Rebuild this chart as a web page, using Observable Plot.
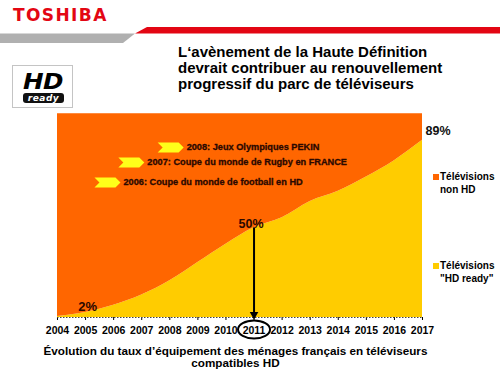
<!DOCTYPE html>
<html><head><meta charset="utf-8">
<script src="https://cdn.jsdelivr.net/npm/d3@7"></script>
<script src="https://cdn.jsdelivr.net/npm/@observablehq/plot@0.6"></script>
<style>
body{margin:0;background:#fff;}
#page{position:relative;width:500px;height:374px;overflow:hidden;font-family:"Liberation Sans",Arial,sans-serif;color:#000;}
.abs{position:absolute;}
#brand{left:13px;top:6.6px;font:bold 17px/17px "DejaVu Sans",sans-serif;letter-spacing:1.4px;color:#e30613;}
#title{left:178px;top:43.5px;font-weight:bold;font-size:15px;line-height:16px;white-space:nowrap;}
#hdlogo{left:12px;top:65px;width:59px;height:41px;border:1px solid #c4c4c4;background:#fff;}
#hdtext{position:absolute;left:10px;top:5px;font:italic bold 22px/22px "DejaVu Sans",sans-serif;letter-spacing:-0.5px;transform:scaleX(1.12);transform-origin:0 0;}
#ready{position:absolute;left:10px;top:27px;width:41px;height:10px;border-radius:3px;background:#111;color:#fff;font:italic bold 9px/10px "DejaVu Sans",sans-serif;text-align:center;letter-spacing:0.5px;}
#chart{left:0;top:100px;}
.leg{font-weight:bold;font-size:10px;line-height:12.5px;white-space:nowrap;}
.sw{width:6px;height:6px;}
#caption{left:0;top:345px;width:471px;text-align:center;font-weight:bold;font-size:11.7px;line-height:12px;white-space:nowrap;}
</style></head><body>
<div id="page">
  <svg class="abs" style="left:0;top:0" width="500" height="50">
    <polygon points="147,27 500,27 500,33.5 135,33.5" fill="#e30613"/>
    <polygon points="0,33.5 135,33.5 123,43 0,43" fill="#b0b0b0"/>
  </svg>
  <div class="abs" id="brand">TOSHIBA</div>
  <div class="abs" id="title">L‘avènement de la Haute Définition<br>devrait contribuer au renouvellement<br>progressif du parc de téléviseurs</div>
  <div class="abs" id="hdlogo"><div id="hdtext">HD</div><div id="ready">ready</div></div>
  <div class="abs" id="chart"></div>
  <div class="abs sw" id="sw0" style="left:433px;top:174px;"></div>
  <div class="abs leg" id="leg0" style="left:440px;top:171.3px;"></div>
  <div class="abs sw" id="sw1" style="left:433px;top:263px;"></div>
  <div class="abs leg" id="leg1" style="left:440px;top:260.3px;"></div>
  <div class="abs" id="caption">Évolution du taux d’équipement des ménages français en téléviseurs<br>compatibles HD</div>
</div>
<script>
// ---- data ----
const years = [2004, 2005, 2006, 2007, 2008, 2009, 2010, 2011, 2012, 2013, 2014, 2015, 2016, 2017];
const hdReady = [0.5, 2.5, 6, 11, 18, 27, 36, 44, 49, 57, 62, 69, 77, 87];
const nonHD = [99.5, 97.5, 94, 89, 82, 73, 64, 56, 51, 43, 38, 31, 23, 13];
const seriesNames = ["HD ready", "non HD"];
const legendLabels = ["Télévisions<br>non HD", "Télévisions<br>\"HD ready\""];
const seriesColors = ["#ffcc00", "#ff6600"];
const pctLabels = ["2%", "50%", "89%"];
const pctLabelYears = [2005, 2011, 2017];
const events = [
  "2008: Jeux Olympiques PEKIN",
  "2007: Coupe du monde de Rugby en FRANCE",
  "2006: Coupe du monde de football en HD"
];
const highlightYear = 2011;

// ---- table ----
const table = years.flatMap((year, i) => [
  {year, series: seriesNames[0], value: hdReady[i]},
  {year, series: seriesNames[1], value: nonHD[i]}
]);
const hdAt = y => hdReady[years.indexOf(y)];

// annotation anchors (data coords)
const eventX = [2008.6, 2007.2, 2006.35];
const eventY = [83.5, 76.1, 66.3];

const chevron = {draw(ctx) {
  ctx.moveTo(-13, -5); ctx.lineTo(8, -5); ctx.lineTo(13, 0);
  ctx.lineTo(8, 5); ctx.lineTo(-13, 5); ctx.lineTo(-8, 0); ctx.closePath();
}};
const ellipse = {draw(ctx) {
  const rx = 16, ry = 9, k = 0.5523;
  ctx.moveTo(rx, 0);
  ctx.bezierCurveTo(rx, ry * k, rx * k, ry, 0, ry);
  ctx.bezierCurveTo(-rx * k, ry, -rx, ry * k, -rx, 0);
  ctx.bezierCurveTo(-rx, -ry * k, -rx * k, -ry, 0, -ry);
  ctx.bezierCurveTo(rx * k, -ry, rx, -ry * k, rx, 0);
  ctx.closePath();
}};

const labelStyle = {fontSize: 13, fontWeight: "bold", fill: "#2a0800"};

const chart = Plot.plot({
  width: 500, height: 250,
  marginTop: 13.3, marginBottom: 33, marginLeft: 57, marginRight: 78,
  style: {fontFamily: "Liberation Sans, Arial, sans-serif", fontSize: "10.5px", fontWeight: "bold", color: "#000", background: "transparent", overflow: "visible"},
  x: {domain: [2004, 2017], ticks: years, tickFormat: d => String(d), tickSize: 3, tickPadding: 6.5, label: null},
  y: {domain: [0, 100], axis: null},
  color: {domain: seriesNames, range: seriesColors},
  marks: [
    Plot.areaY(table, {x: "year", y: "value", fill: "series", curve: "monotone-x"}),
    Plot.ruleY([0], {stroke: "#444", strokeDasharray: "1.5,1.5"}),
    Plot.dot(events, {x: (d, i) => eventX[i], y: (d, i) => eventY[i], symbol: chevron, fill: "#ffff1a", dx: -16}),
    Plot.text(events, {x: (d, i) => eventX[i], y: (d, i) => eventY[i], text: d => d, textAnchor: "start", fontSize: 9.2, fontWeight: 700, fill: "#2a0800", stroke: "#2a0800", strokeWidth: 0.3}),
    Plot.ruleX([highlightYear], {y1: () => 0, y2: () => hdAt(highlightYear), stroke: "#000", strokeWidth: 2}),
    Plot.dot([highlightYear], {x: d => d, y: () => 0, symbol: "triangle", rotate: 180, r: 3.2, fill: "#000", dy: -3}),
    Plot.dot([highlightYear], {x: d => d, y: () => -5.9, symbol: ellipse, fill: "none", stroke: "#000", strokeWidth: 2}),
    Plot.text([pctLabels[0]], {x: () => pctLabelYears[0], y: () => hdAt(pctLabelYears[0]), text: d => d, dx: 2, dy: -6, ...labelStyle}),
    Plot.text([pctLabels[1]], {x: () => pctLabelYears[1], y: () => hdAt(pctLabelYears[1]), text: d => d, dx: -3, dy: -4, ...labelStyle, fontSize: 12.5}),
    Plot.text([pctLabels[2]], {x: () => pctLabelYears[2], y: () => hdAt(pctLabelYears[2]), text: d => d, textAnchor: "start", dx: 3, dy: -9.5, fontSize: 12.5, fontWeight: "bold", fill: "#111"})
  ]
});
document.getElementById("chart").append(chart);

// legend (non HD first, then HD ready)
document.getElementById("sw0").style.background = seriesColors[1];
document.getElementById("leg0").innerHTML = legendLabels[0];
document.getElementById("sw1").style.background = seriesColors[0];
document.getElementById("leg1").innerHTML = legendLabels[1];
</script>
</body></html>
